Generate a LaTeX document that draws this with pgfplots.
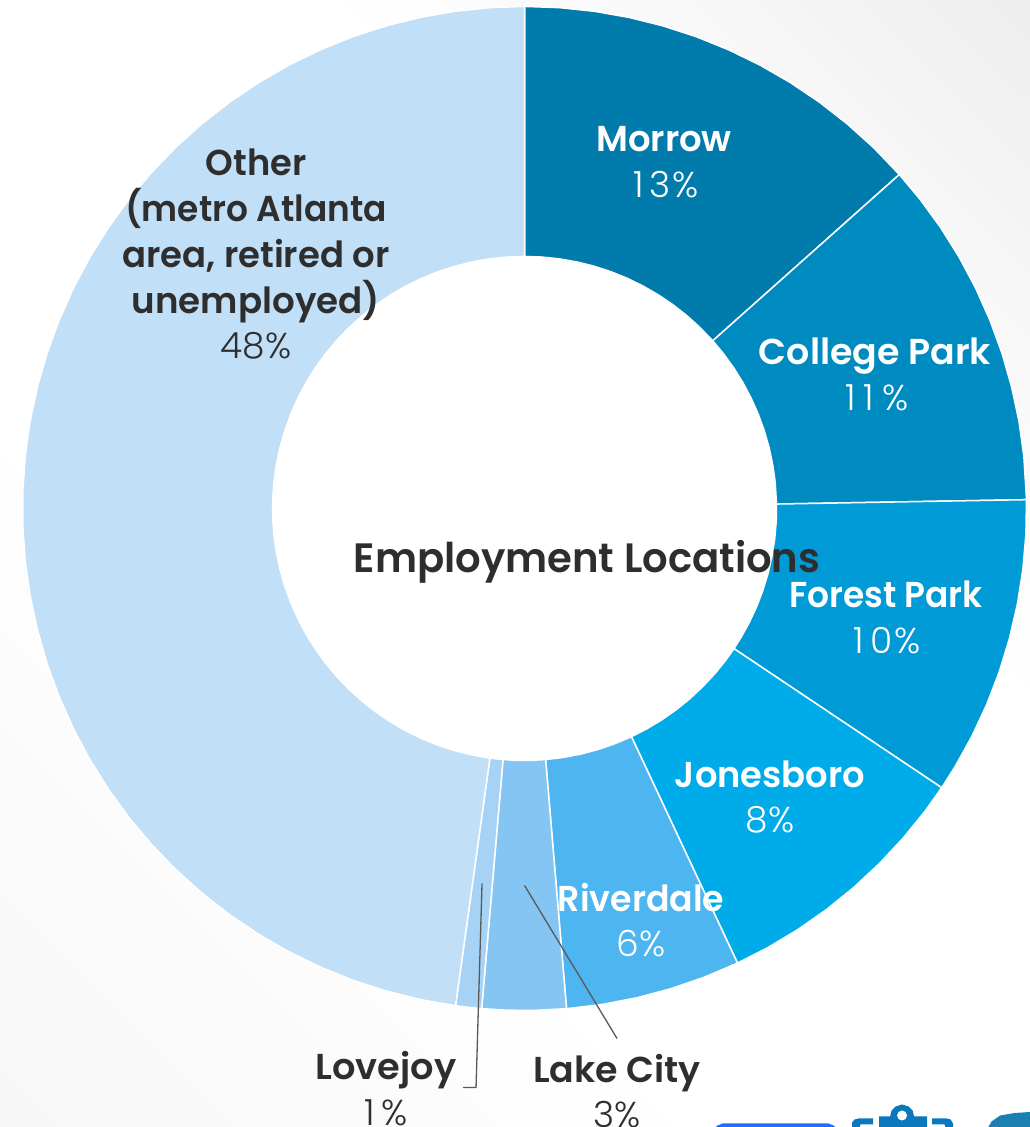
\documentclass[border=0pt]{standalone}
\usepackage{pgfplots}
\pgfplotsset{compat=1.18}
\usepackage{fontspec}
\setmainfont{Poppins}
\newfontfamily\lb{Poppins SemiBold}
\newfontfamily\lt{Poppins Light}
\definecolor{cMorrow}{HTML}{007BAB}
\definecolor{cCollege}{HTML}{008BC0}
\definecolor{cForest}{HTML}{009BD6}
\definecolor{cJones}{HTML}{00ABE9}
\definecolor{cRiver}{HTML}{4DB5F0}
\definecolor{cLake}{HTML}{85C5F3}
\definecolor{cLove}{HTML}{A6D2F6}
\definecolor{cOther}{HTML}{C1DFF7}
\definecolor{ink}{HTML}{2E2E2E}
\definecolor{leader}{HTML}{595959}
\definecolor{bgA}{HTML}{EEEEEE}
\definecolor{bgT}{HTML}{F8F8F8}
\definecolor{bgB}{HTML}{FFFFFF}
\definecolor{bgC}{HTML}{F7F7F7}
\definecolor{logobar}{HTML}{1F6FFF}
\definecolor{logoblue}{HTML}{0B77BD}
\definecolor{logoteal}{HTML}{1A80B2}
\pgfdeclareverticalshading{bgsh}{100bp}{color(0bp)=(bgC);color(15bp)=(bgC);color(38bp)=(bgB);color(62bp)=(bgB);color(74bp)=(bgT);color(85bp)=(bgA);color(100bp)=(bgA)}
\newcommand{\bl}[2][1]{\scalebox{#1}[1]{\fontsize{36}{40}\selectfont\lb #2}}
\newcommand{\pc}[1]{{\fontsize{36}{40}\selectfont\lt #1}}
\begin{document}
\begin{tikzpicture}
\useasboundingbox (0,0) rectangle (1030pt,1127pt);
\clip (0,0) rectangle (1030pt,1127pt);
\shade[shading=bgsh,shading angle=-45] (0,0) rectangle (1030pt,1127pt);
\begin{axis}[at={(0,0)},anchor=south west,scale only axis,width=1030pt,height=1127pt,
  xmin=-524.5,xmax=505.5,ymin=-618.5,ymax=508.5,hide axis,clip=true]
% white centre of the ring
\addplot[fill=white,draw=none,data cs=polar] coordinates {
(0,252)(5,252)(10,252)(15,252)(20,252)(25,252)(30,252)(35,252)(40,252)(45,252)(50,252)(55,252)(60,252)(65,252)(70,252)(75,252)(80,252)(85,252)(90,252)(95,252)(100,252)(105,252)(110,252)(115,252)(120,252)(125,252)(130,252)(135,252)(140,252)(145,252)(150,252)(155,252)(160,252)(165,252)(170,252)(175,252)(180,252)(185,252)(190,252)(195,252)(200,252)(205,252)(210,252)(215,252)(220,252)(225,252)(230,252)(235,252)(240,252)(245,252)(250,252)(255,252)(260,252)(265,252)(270,252)(275,252)(280,252)(285,252)(290,252)(295,252)(300,252)(305,252)(310,252)(315,252)(320,252)(325,252)(330,252)(335,252)(340,252)(345,252)(350,252)(355,252)} -- cycle;
% Morrow 13%
\addplot[fill=cMorrow,draw=white,line width=1.5pt,data cs=polar] coordinates {
(90,502)(86,502)(82,502)(78,502)(74,502)(70,502)(66,502)(62,502)(58,502)(54,502)(50,502)(46,502)(41.7,502)
(41.7,252)(46,252)(50,252)(54,252)(58,252)(62,252)(66,252)(70,252)(74,252)(78,252)(82,252)(86,252)(90,252)} -- cycle;
% College Park 11%
\addplot[fill=cCollege,draw=white,line width=1.5pt,data cs=polar] coordinates {
(41.7,502)(38,502)(34,502)(30,502)(26,502)(22,502)(18,502)(14,502)(10,502)(6,502)(1,502)
(1,252)(6,252)(10,252)(14,252)(18,252)(22,252)(26,252)(30,252)(34,252)(38,252)(41.7,252)} -- cycle;
% Forest Park 10%
\addplot[fill=cForest,draw=white,line width=1.5pt,data cs=polar] coordinates {
(1,502)(-3,502)(-7,502)(-11,502)(-15,502)(-19,502)(-23,502)(-27,502)(-31,502)(-33.8,502)
(-33.8,252)(-31,252)(-27,252)(-23,252)(-19,252)(-15,252)(-11,252)(-7,252)(-3,252)(1,252)} -- cycle;
% Jonesboro 8%
\addplot[fill=cJones,draw=white,line width=1.5pt,data cs=polar] coordinates {
(-33.8,502)(-37,502)(-41,502)(-45,502)(-49,502)(-53,502)(-57,502)(-61,502)(-64.9,502)
(-64.9,252)(-61,252)(-57,252)(-53,252)(-49,252)(-45,252)(-41,252)(-37,252)(-33.8,252)} -- cycle;
% Riverdale 6%
\addplot[fill=cRiver,draw=white,line width=1.5pt,data cs=polar] coordinates {
(-64.9,502)(-69,502)(-73,502)(-77,502)(-81,502)(-85.2,502)
(-85.2,252)(-81,252)(-77,252)(-73,252)(-69,252)(-64.9,252)} -- cycle;
% Lake City 3%
\addplot[fill=cLake,draw=white,line width=1.5pt,data cs=polar] coordinates {
(-85.2,502)(-89,502)(-92,502)(-94.9,502)
(-94.9,252)(-92,252)(-89,252)(-85.2,252)} -- cycle;
% Lovejoy 1%
\addplot[fill=cLove,draw=white,line width=1.5pt,data cs=polar] coordinates {
(-94.9,502)(-96.4,502)(-97.9,502)
(-97.9,252)(-96.4,252)(-94.9,252)} -- cycle;
% Other 48%
\addplot[fill=cOther,draw=white,line width=1.5pt,data cs=polar] coordinates {
(-97.9,502)(-102,502)(-106,502)(-110,502)(-114,502)(-118,502)(-122,502)(-126,502)(-130,502)(-134,502)(-138,502)(-142,502)(-146,502)(-150,502)(-154,502)(-158,502)(-162,502)(-166,502)(-170,502)(-174,502)(-178,502)(-182,502)(-186,502)(-190,502)(-194,502)(-198,502)(-202,502)(-206,502)(-210,502)(-214,502)(-218,502)(-222,502)(-226,502)(-230,502)(-234,502)(-238,502)(-242,502)(-246,502)(-250,502)(-254,502)(-258,502)(-262,502)(-266,502)(-270,502)
(-270,252)(-266,252)(-262,252)(-258,252)(-254,252)(-250,252)(-246,252)(-242,252)(-238,252)(-234,252)(-230,252)(-226,252)(-222,252)(-218,252)(-214,252)(-210,252)(-206,252)(-202,252)(-198,252)(-194,252)(-190,252)(-186,252)(-182,252)(-178,252)(-174,252)(-170,252)(-166,252)(-162,252)(-158,252)(-154,252)(-150,252)(-146,252)(-142,252)(-138,252)(-134,252)(-130,252)(-126,252)(-122,252)(-118,252)(-114,252)(-110,252)(-106,252)(-102,252)(-97.9,252)} -- cycle;
% leader lines
\addplot[leader,line width=1.3pt] coordinates {(0,-377)(92.5,-530)};
\addplot[leader,line width=1.3pt] coordinates {(-42.5,-375)(-48.5,-579)(-61.5,-579)};
% cropped logo pieces at the lower right
\addplot[fill=logobar,draw=none] coordinates {(190.5,-619)(193,-617)(198,-615)(304,-615)(309,-617)(311,-619)} -- cycle;
\addplot[fill=logoblue,draw=none] coordinates {(354.5,-619)(354.5,-608)(365.5,-608)(367,-602)(371,-598)(377.5,-596)(384,-598)(388,-602)(389.5,-608)(402.5,-608)(402.5,-619)} -- cycle;
\addplot[fill=white,draw=none] coordinates {(372.5,-607)(374,-603.5)(377.5,-602)(381,-603.5)(382.5,-607)(381,-610.5)(377.5,-612)(374,-610.5)} -- cycle;
\addplot[fill=logoblue,draw=none] coordinates {(327.5,-619)(327.5,-614)(330,-611)(334,-610)(348.5,-610)(348.5,-616)(336,-616)(335,-619)} -- cycle;
\addplot[fill=logoblue,draw=none] coordinates {(407.5,-610)(422,-610)(426,-611)(428.5,-615)(428.5,-619)(421,-619)(420,-616)(407.5,-616)} -- cycle;
\addplot[fill=logoteal,draw=none] coordinates {(463.5,-619)(467,-613)(475.5,-607)(490,-604.5)(505.5,-603.5)(505.5,-619)} -- cycle;
% labels
\tikzset{lab/.style={anchor=base,inner sep=0pt,outer sep=0pt}}
\node[lab,white] at (axis cs:139.5,357) {\bl[.985]{Morrow}};
\node[lab,white] at (axis cs:141.5,311) {\pc{1\kern6pt 3\kern2pt\%}};
\node[lab,white] at (axis cs:350.5,143.5) {\bl[1.01]{College Park}};
\node[lab,white] at (axis cs:352.5,98) {\pc{1\kern8pt 1\kern8pt\%}};
\node[lab,white] at (axis cs:361.5,-99.5) {\bl[.955]{Forest Park}};
\node[lab,white] at (axis cs:362.5,-145) {\pc{1\kern7pt 0\kern2pt\%}};
\node[lab,white] at (axis cs:245.5,-279) {\bl[.98]{Jonesboro}};
\node[lab,white] at (axis cs:245.5,-324) {\pc{8\%}};
\node[lab,white] at (axis cs:116.5,-403) {\bl[.965]{Riverdale}};
\node[lab,white] at (axis cs:116.5,-448) {\pc{6\%}};
\node[lab,ink] at (axis cs:-268.5,333) {\bl[.98]{Other}};
\node[lab,ink] at (axis cs:-268.5,287) {\bl[.955]{(metro Atlanta}};
\node[lab,ink] at (axis cs:-268.5,241) {\bl[.985]{area, retired or}};
\node[lab,ink] at (axis cs:-268.5,195) {\bl[.99]{unemployed)}};
\node[lab,ink] at (axis cs:-268.5,150) {\pc{48\%}};
\node[lab,ink] at (axis cs:-138.5,-571) {\bl[1.02]{Lovejoy}};
\node[lab,ink] at (axis cs:-138.5,-617) {\pc{1\kern6pt\%}};
\node[lab,ink] at (axis cs:92.5,-574) {\bl[1.01]{Lake City}};
\node[lab,ink] at (axis cs:92.5,-619) {\pc{3\%}};
\node[lab,ink] at (axis cs:62.5,-64) {\scalebox{.98}[1]{\fontsize{41}{45}\selectfont\lb Employment Locations}};
\end{axis}
\end{tikzpicture}
\end{document}
